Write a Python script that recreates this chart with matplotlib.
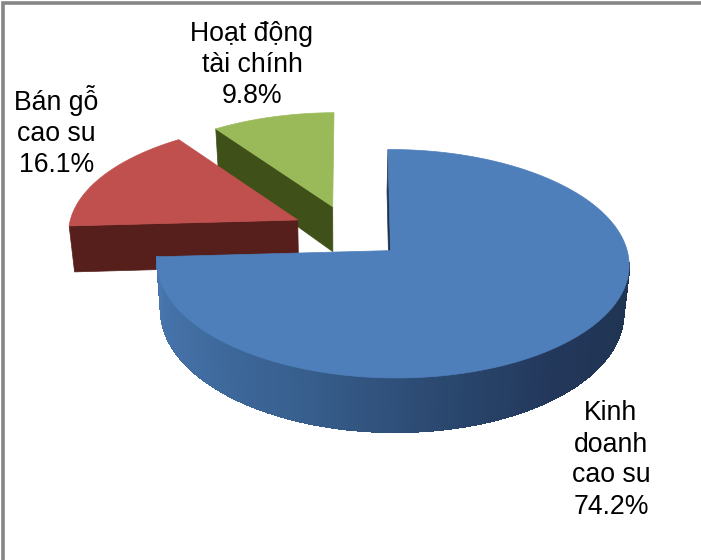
import numpy as np
import matplotlib
matplotlib.use("Agg")
import matplotlib.pyplot as plt
from matplotlib.collections import PolyCollection, LineCollection
from matplotlib.colors import LinearSegmentedColormap

#chart values, in drawing order around the pie (clockwise from 12 o'clock)
sliceNames = ["Kinh\ndoanh\ncao su", "Bán gỗ\ncao su", "Hoạt động\ntài chính"]
sliceValues = [74.2, 16.1, 9.8]

#colours of each slice: top face and cut wall
topColors = ["#4e7fbb", "#bf504d", "#9aba59"]
wallColors = ["#1f3350", "#561f1c", "#3f5119"]

#pixel position of each exploded slice's tip, its scale and its lean
tipX = [390.5, 297.7, 332.7]
tipY = [250.6, 220.0, 206.7]
sliceScaleX = [1.0, 0.98, 0.96]
sliceScaleY = [1.0, 0.96, 0.93]
sliceLean = [0.025, -0.02, -0.014]
labelX = [611, 56.5, 252]
labelY = [460, 131.5, 65]

#perspective of the pie plate
halfWidth = 234.3
halfDepth = 112.7
tiltY = 0.115
tiltX = -0.01

#shading along the blue rim, by angle in degrees
rimAngles = [90, 140, 165, 202, 234, 268]
rimShades = ["#1f334f", "#22375a", "#29456b", "#38608f", "#426ea3", "#4977b0"]


#project angles (degrees clockwise from top) on to the top face of a slice
def rimPoints(angles, idx):
	t = np.radians(angles)
	X = np.sin(t)
	Y = np.cos(t)
	w = 1 + tiltY*Y + tiltX*X
	dy = -sliceScaleY[idx]*halfDepth*Y/w
	dx = sliceScaleX[idx]*halfWidth*X/w + sliceLean[idx]*dy
	return tipX[idx] + dx, tipY[idx] + dy


#move a point of a top face down on to the bottom face
def dropPoints(x, y):
	lowX = 340 + 0.98*(np.asarray(x) - 340)
	lowY = np.asarray(y) + 45 + 0.0526*(np.asarray(y) - 207)
	return lowX, lowY


fig = plt.figure(figsize=(7.01, 5.60), dpi=100)
ax = fig.add_axes([0, 0, 1, 1])
ax.set_xlim(0, 701)
ax.set_ylim(560, 0)
ax.axis("off")

#frame round the chart, only the top and left edges show
ax.plot([3, 3, 701], [560, 3, 3], color="#868686", lw=2.6, solid_joinstyle="miter", zorder=1)

total = sum(sliceValues)
edges = np.concatenate(([0], np.cumsum(sliceValues)))*360/total

#back slices first so the nearer ones cover them
for idx in [2, 1, 0]:
	start, stop = edges[idx], edges[idx + 1]
	angles = np.linspace(start, stop, 240)
	x, y = rimPoints(angles, idx)
	zBase = 3 + 2*(2 - idx)

	#cut wall running from the first rim point back to the tip
	lowX, lowY = dropPoints([x[0], tipX[idx]], [y[0], tipY[idx]])
	ax.fill([x[0], tipX[idx], lowX[1], lowX[0]], [y[0], tipY[idx], lowY[1], lowY[0]],
		color=wallColors[idx], lw=0.5, zorder=zBase)

	#curved outer side of the big slice
	if idx == 0:
		sideAngles = np.linspace(max(start, 96), stop, 360)
		sx, sy = rimPoints(sideAngles, idx)
		lx, ly = dropPoints(sx, sy)
		quads = [[(sx[i], sy[i]), (sx[i + 1], sy[i + 1]), (lx[i + 1], ly[i + 1]), (lx[i], ly[i])] for i in range(len(sx) - 1)]
		rimMap = LinearSegmentedColormap.from_list("rim", rimShades)
		pos = (np.clip(sideAngles[:-1], rimAngles[0], rimAngles[-1]) - rimAngles[0])/(rimAngles[-1] - rimAngles[0])
		#stops are not evenly spaced so go through them by hand
		stopPos = (np.array(rimAngles) - rimAngles[0])/(rimAngles[-1] - rimAngles[0])
		shade = np.interp(pos, stopPos, np.linspace(0, 1, len(rimShades)))
		sideColors = rimMap(shade)
		ax.add_collection(PolyCollection(quads, facecolors=sideColors, edgecolors=sideColors, linewidths=1.0, antialiaseds=False, zorder=zBase))
		#smooth line along the bottom so the plain quads do not leave steps
		pieces = [[(lx[i], ly[i]), (lx[i + 1], ly[i + 1])] for i in range(len(lx) - 1)]
		ax.add_collection(LineCollection(pieces, colors=sideColors, linewidths=1.2, zorder=zBase))

	ax.fill(np.concatenate((x, [tipX[idx]])), np.concatenate((y, [tipY[idx]])),
		color=topColors[idx], lw=0.5, zorder=zBase + 1)

#labels
for idx in range(3):
	ax.text(labelX[idx], labelY[idx], "%s\n%.1f%%" % (sliceNames[idx], sliceValues[idx]),
		ha="center", va="center", multialignment="center", fontsize=19.2, linespacing=1.25,
		family="Liberation Sans", color="black", zorder=20)

fig.savefig("out.png", dpi=100)
